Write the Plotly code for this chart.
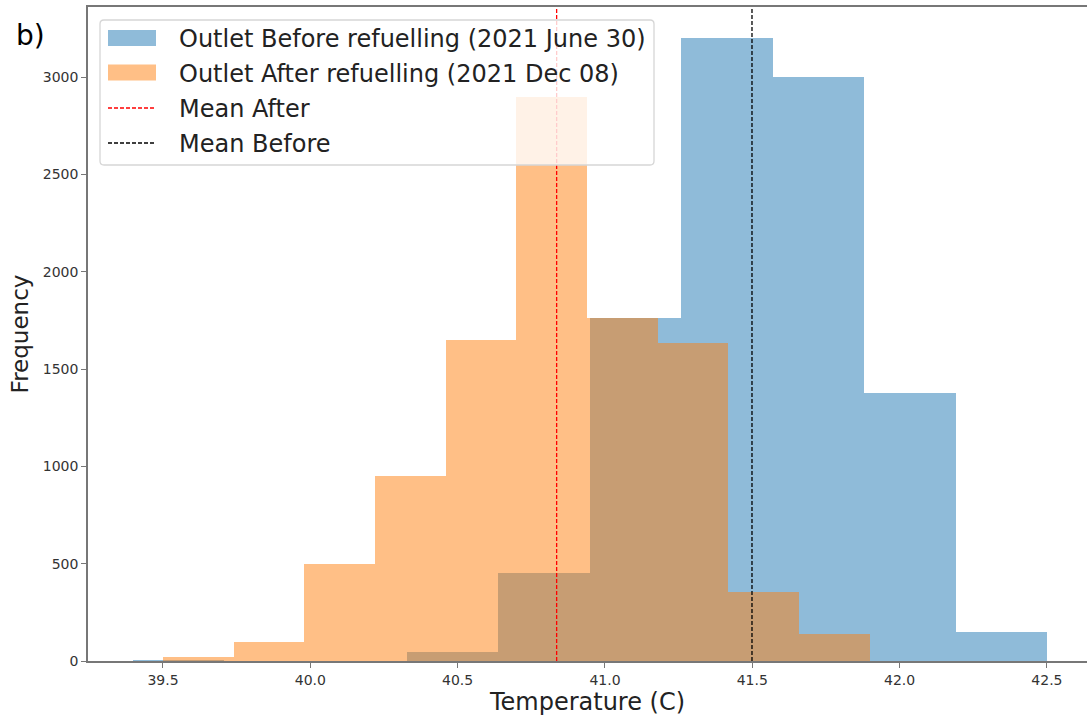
import plotly.graph_objects as go

# Histogram bin edges and counts
before_edges = [39.397, 39.707, 40.018, 40.328, 40.638, 40.949, 41.259, 41.569, 41.879, 42.190, 42.500]
before_counts = [5, 0, 0, 45, 450, 1762, 3200, 3000, 1375, 147]

after_edges = [39.500, 39.740, 39.980, 40.219, 40.459, 40.699, 40.939, 41.179, 41.418, 41.658, 41.898]
after_counts = [20, 100, 500, 950, 1650, 2900, 1760, 1632, 355, 140]

mean_after = 40.836
mean_before = 41.499

y_ticks = [0, 500, 1000, 1500, 2000, 2500, 3000]
x_ticks = [39.5, 40.0, 40.5, 41.0, 41.5, 42.0, 42.5]

label_before = "Outlet Before refuelling (2021 June 30)"
label_after = "Outlet After refuelling (2021 Dec 08)"
label_mean_after = "Mean After"
label_mean_before = "Mean Before"

BLUE = "rgba(31,119,180,0.5)"
ORANGE = "rgba(255,127,14,0.5)"
DASH = "4px,2px"

# plot area in pixels (for placing the legend box)
W, H = 1087, 719
ML, MR, MT, MB = 88, 0, 7, 58
PW, PH = W - ML - MR, H - MT - MB


def fx(px):
    return (px - ML) / PW


def fy(py):
    return (H - MB - py) / PH


def centers_widths(edges):
    c = [(a + b) / 2 for a, b in zip(edges[:-1], edges[1:])]
    w = [b - a for a, b in zip(edges[:-1], edges[1:])]
    return c, w


bc, bw = centers_widths(before_edges)
ac, aw = centers_widths(after_edges)

fig = go.Figure()
fig.add_trace(go.Bar(x=bc, y=before_counts, width=bw, name=label_before, showlegend=False,
                     marker=dict(color=BLUE, line=dict(width=0))))
fig.add_trace(go.Bar(x=ac, y=after_counts, width=aw, name=label_after, showlegend=False,
                     marker=dict(color=ORANGE, line=dict(width=0))))

fig.add_shape(type="line", x0=mean_after, x1=mean_after, y0=0, y1=1, yref="y domain",
              line=dict(color="red", width=1.3, dash=DASH))
fig.add_shape(type="line", x0=mean_before, x1=mean_before, y0=0, y1=1, yref="y domain",
              line=dict(color="black", width=1.3, dash=DASH))

# ---- legend box (matplotlib style) ----
lx0, lx1, ly0, ly1, r = 100, 654, 20, 165, 4
path = (f"M {fx(lx0 + r)},{fy(ly0)} L {fx(lx1 - r)},{fy(ly0)} Q {fx(lx1)},{fy(ly0)} {fx(lx1)},{fy(ly0 + r)} "
        f"L {fx(lx1)},{fy(ly1 - r)} Q {fx(lx1)},{fy(ly1)} {fx(lx1 - r)},{fy(ly1)} "
        f"L {fx(lx0 + r)},{fy(ly1)} Q {fx(lx0)},{fy(ly1)} {fx(lx0)},{fy(ly1 - r)} "
        f"L {fx(lx0)},{fy(ly0 + r)} Q {fx(lx0)},{fy(ly0)} {fx(lx0 + r)},{fy(ly0)} Z")
fig.add_shape(type="path", path=path, xref="paper", yref="paper", layer="above",
              fillcolor="rgba(255,255,255,0.8)", line=dict(color="#d6d6d6", width=1.3))

rows = [38, 72.5, 108, 143]
sx0, sx1, tx = 108, 156, 177
entries = [(label_before, "patch", BLUE), (label_after, "patch", ORANGE),
           (label_mean_after, "line", "red"), (label_mean_before, "line", "black")]
for (text, kind, col), ry in zip(entries, rows):
    if kind == "patch":
        fig.add_shape(type="rect", xref="paper", yref="paper", layer="above",
                      x0=fx(sx0), x1=fx(sx1), y0=fy(ry - 8), y1=fy(ry + 8),
                      fillcolor=col, line=dict(width=0))
    else:
        fig.add_shape(type="line", xref="paper", yref="paper", layer="above",
                      x0=fx(sx0), x1=fx(sx1), y0=fy(ry), y1=fy(ry),
                      line=dict(color=col, width=1.3, dash=DASH))
    fig.add_annotation(text=text, xref="paper", yref="paper", x=fx(tx), y=fy(ry + 1),
                       xanchor="left", yanchor="middle", showarrow=False,
                       font=dict(size=24, color="#222", family="DejaVu Sans"))

fig.add_annotation(text="b)", xref="paper", yref="paper", x=fx(14), y=fy(35),
                   xanchor="left", yanchor="middle", showarrow=False,
                   font=dict(size=28, color="black", family="DejaVu Sans"))

fig.update_layout(
    width=W, height=H,
    margin=dict(l=ML, r=MR, t=MT, b=MB),
    paper_bgcolor="white", plot_bgcolor="white",
    barmode="overlay", bargap=0,
    font=dict(family="DejaVu Sans", color="#222"),
    showlegend=False,
    xaxis=dict(range=[39.2455, 42.636], tickvals=x_ticks,
               ticktext=[f"{v:.1f}" for v in x_ticks],
               showgrid=False, zeroline=False, showline=True, linecolor="#777", linewidth=1.5,
               mirror=True, ticks="outside", ticklen=5, tickcolor="#777",
               tickfont=dict(size=14, color="#333"),
               title=dict(text="Temperature (C)", font=dict(size=24, color="#222"), standoff=4)),
    yaxis=dict(range=[0, 3360], tickvals=y_ticks,
               showgrid=False, zeroline=False, showline=True, linecolor="#777", linewidth=1.5,
               ticks="outside", ticklen=5, tickcolor="#777",
               tickfont=dict(size=14, color="#333"),
               title=dict(text="Frequency", font=dict(size=23, color="#222"), standoff=8)),
)

fig.write_html("out.html")
